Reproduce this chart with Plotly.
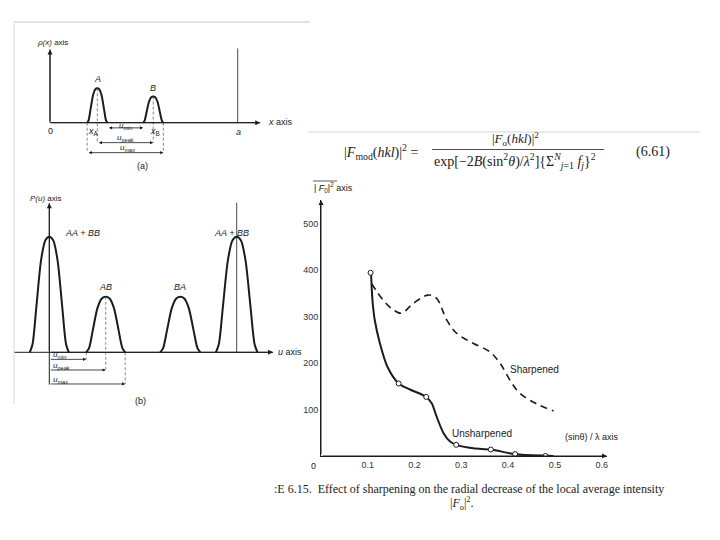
import plotly.graph_objects as go

W, H = 720, 540

# ---------------- data: panel (a) electron density rho(x) ----------------
a_peak_names = ["A", "B"]
a_peak_centers = [0.252, 0.550]          # fraction of cell edge a
a_peak_heights = [1.00, 0.76]
a_peak_halfwidths = [0.054, 0.054]
a_axis_top = 2.13
a_xaxis_end = 1.12
a_cell_edge = 1.0
a_cell_line_top = 2.16
a_dim_names = ["u<sub>min</sub>", "u<sub>peak</sub>", "u<sub>max</sub>"]
a_dim_levels = [-0.15, -0.58, -0.87]

# ---------------- data: panel (b) Patterson P(u) ----------------
b_peak_names = ["AA + BB", "AB", "BA", "AA + BB"]
b_peak_centers = [0.0, 0.301, 0.699, 1.0]
b_peak_heights = [1.00, 0.48, 0.48, 1.00]
b_peak_halfwidths = [0.104, 0.104, 0.107, 0.111]
b_axis_top = 1.29
b_axis_bottom = -0.28
b_uaxis_start = -0.194
b_uaxis_end = 1.194
b_cell_line_top = 1.294
b_dim_names = ["u<sub>min</sub>", "u<sub>peak</sub>", "u<sub>max</sub>"]
b_dim_levels = [-0.061, -0.153, -0.274]

# normalised peak profile
profile_offsets = [-1.0, -0.86, -0.66, -0.42, -0.2, 0.0, 0.2, 0.42, 0.66, 0.86, 1.0]
profile_heights = [0.0, 0.07, 0.40, 0.80, 0.97, 1.0, 0.97, 0.80, 0.40, 0.07, 0.0]

# ---------------- data: radial intensity chart ----------------
unsharp_curve_x = [0.107, 0.110, 0.115, 0.126, 0.142, 0.166, 0.190, 0.225, 0.237, 0.247,
                   0.262, 0.276, 0.289, 0.326, 0.363, 0.415, 0.480, 0.497]
unsharp_curve_y = [393, 335, 292, 242, 192, 156, 143, 127, 113, 85,
                   49, 31, 24, 16.5, 14, 4, 0.5, 0]
unsharp_pts_x = [0.106, 0.166, 0.225, 0.289, 0.363, 0.415, 0.480]
unsharp_pts_y = [394, 156, 127, 24, 14, 4, 0]
sharp_x = [0.108, 0.133, 0.155, 0.172, 0.197, 0.229, 0.247, 0.269, 0.290, 0.326,
           0.361, 0.383, 0.404, 0.425, 0.461, 0.497]
sharp_y = [371, 335, 314, 307, 328, 346, 339, 292, 264, 242,
           224, 199, 163, 135, 112, 97]
x_ticks = [0.1, 0.2, 0.3, 0.4, 0.5, 0.6]
x_tick_labels = ["0.1", "0.2", "0.3", "0.4", "0.5", "0.6"]
origin_label = "0"
y_ticks = [100, 200, 300, 400, 500]
y_tick_labels = ["100", "200", "300", "400", "500"]

# ---------------- helpers (layout only) ----------------
def dom_x(p0, p1):
    return [p0 / W, p1 / W]

def dom_y(top, bottom):
    return [1 - bottom / H, 1 - top / H]

def lin_range(p_lo, p_hi, p_a, v_a, p_b, v_b):
    s = (v_b - v_a) / (p_b - p_a)
    return [v_a + (p_lo - p_a) * s, v_a + (p_hi - p_a) * s]

def px(x):
    return x / W

def py(y):
    return 1 - y / H

def peak_xy(c, h, hw):
    return [c + hw * o for o in profile_offsets], [h * p for p in profile_heights]

INK = "#1c1c1c"
SANS = "Liberation Sans"
SERIF = "Liberation Serif"

fig = go.Figure()

# ---------- panel (a) ----------
for c, h, hw in zip(a_peak_centers, a_peak_heights, a_peak_halfwidths):
    xs, ys = peak_xy(c, h, hw)
    fig.add_trace(go.Scatter(x=xs, y=ys, mode="lines", line=dict(color=INK, width=2, shape="spline", smoothing=0.8),
                             xaxis="x", yaxis="y", hoverinfo="skip"))
fig.add_trace(go.Scatter(x=[0, 0], y=[0, a_axis_top], mode="lines", line=dict(color=INK, width=1), xaxis="x", yaxis="y"))
fig.add_trace(go.Scatter(x=[0, a_xaxis_end], y=[0, 0], mode="lines", line=dict(color=INK, width=1), xaxis="x", yaxis="y"))
fig.add_trace(go.Scatter(x=[a_cell_edge, a_cell_edge], y=[0, a_cell_line_top], mode="lines", line=dict(color=INK, width=0.8), xaxis="x", yaxis="y"))
aL = a_peak_centers[0] - a_peak_halfwidths[0]
aR = a_peak_centers[0] + a_peak_halfwidths[0]
bL = a_peak_centers[1] - a_peak_halfwidths[1]
bR = a_peak_centers[1] + a_peak_halfwidths[1]
a_dims = [(aR, bL), (a_peak_centers[0], a_peak_centers[1]), (aL, bR)]
for xv, ytop, ybot in [(aL, 0, a_dim_levels[2]), (bR, 0, a_dim_levels[2]),
                       (a_peak_centers[0], a_peak_heights[0], a_dim_levels[1]),
                       (a_peak_centers[1], a_peak_heights[1], a_dim_levels[1])]:
    fig.add_trace(go.Scatter(x=[xv, xv], y=[ytop, ybot], mode="lines",
                             line=dict(color="#555", width=0.7, dash="3px,2px"), xaxis="x", yaxis="y"))

# ---------- panel (b) ----------
for c, h, hw in zip(b_peak_centers, b_peak_heights, b_peak_halfwidths):
    xs, ys = peak_xy(c, h, hw)
    fig.add_trace(go.Scatter(x=xs, y=ys, mode="lines", line=dict(color=INK, width=2, shape="spline", smoothing=0.8),
                             xaxis="x2", yaxis="y2", hoverinfo="skip"))
fig.add_trace(go.Scatter(x=[0, 0], y=[b_axis_bottom, b_axis_top], mode="lines", line=dict(color=INK, width=1), xaxis="x2", yaxis="y2"))
fig.add_trace(go.Scatter(x=[b_uaxis_start, b_uaxis_end], y=[0, 0], mode="lines", line=dict(color=INK, width=1), xaxis="x2", yaxis="y2"))
fig.add_trace(go.Scatter(x=[1.0, 1.0], y=[0, b_cell_line_top], mode="lines", line=dict(color=INK, width=0.8), xaxis="x2", yaxis="y2"))
abL = b_peak_centers[1] - b_peak_halfwidths[1]
abR = b_peak_centers[1] + b_peak_halfwidths[1]
b_dims = [abL, b_peak_centers[1], abR]
for xv, ytop, ybot in [(abL, 0, b_dim_levels[0]), (b_peak_centers[1], b_peak_heights[1], b_dim_levels[1]),
                       (abR, 0, b_dim_levels[2])]:
    fig.add_trace(go.Scatter(x=[xv, xv], y=[ytop, ybot], mode="lines",
                             line=dict(color="#555", width=0.7, dash="3px,2px"), xaxis="x2", yaxis="y2"))

# ---------- radial intensity chart ----------
fig.add_trace(go.Scatter(x=sharp_x, y=sharp_y, mode="lines", name="Sharpened",
                         line=dict(color=INK, width=1.6, dash="7px,5px", shape="spline", smoothing=1.0),
                         xaxis="x3", yaxis="y3"))
fig.add_trace(go.Scatter(x=unsharp_curve_x, y=unsharp_curve_y, mode="lines", name="Unsharpened",
                         line=dict(color=INK, width=2, shape="spline", smoothing=0.8),
                         xaxis="x3", yaxis="y3"))
fig.add_trace(go.Scatter(x=unsharp_pts_x, y=unsharp_pts_y, mode="markers",
                         marker=dict(symbol="circle", size=5, color="white", line=dict(color=INK, width=1)),
                         xaxis="x3", yaxis="y3"))

annotations = []

def text(x, y, s, size=8, xanchor="center", font=SANS, xref="paper", yref="paper", color="#222", yanchor="middle"):
    annotations.append(dict(x=x, y=y, xref=xref, yref=yref, text=s, showarrow=False,
                            xanchor=xanchor, yanchor=yanchor, font=dict(family=font, size=size, color=color)))

def arrow(x0, y0, x1, y1, xr, yr, side="end", size=0.9, width=1):
    annotations.append(dict(x=x1, y=y1, ax=x0, ay=y0, xref=xr, yref=yr, axref=xr, ayref=yr, text="",
                            showarrow=True, arrowhead=2, arrowsize=size, arrowwidth=width,
                            arrowcolor=INK, arrowside=side))

# panel (a)
arrow(0, 0, 0, a_axis_top, "x", "y", size=1.0)
arrow(0, 0, a_xaxis_end, 0, "x", "y", size=1.0)
for (x0, x1), lev in zip(a_dims, a_dim_levels):
    arrow(x0, lev, x1, lev, "x", "y", side="end+start", size=0.8, width=0.8)
for name, c, h in zip(a_peak_names, a_peak_centers, a_peak_heights):
    annotations.append(dict(x=c, y=h, xref="x", yref="y", text="<i>" + name + "</i>", showarrow=False,
                            yshift=9, font=dict(family=SANS, size=9, color="#222")))
text(px(35), py(43), "<i>ρ(x)</i> axis", 8, "left")
text(px(266), py(122), "<i>x</i> axis", 9, "left")
text(px(50), py(131), "0", 9)
text(px(93), py(131), "<i>x</i><sub>A</sub>", 9)
text(px(155), py(131), "<i>x</i><sub>B</sub>", 9)
text(px(238), py(132), "<i>a</i>", 9)
text(px(126), py(126), "<i>u</i><sub>min</sub>", 8)
text(px(125), py(138), "<i>u</i><sub>peak</sub>", 8)
text(px(127), py(148), "<i>u</i><sub>max</sub>", 8)
text(px(142), py(166), "(a)", 9)

# panel (b)
arrow(0, 0, 0, b_axis_top, "x2", "y2", size=1.0)
arrow(0, 0, b_uaxis_end, 0, "x2", "y2", size=1.0)
for xe, lev in zip(b_dims, b_dim_levels):
    arrow(0, lev, xe, lev, "x2", "y2", side="end", size=0.8, width=0.8)
for name, c, h, anch, shiftx in zip(b_peak_names, b_peak_centers, b_peak_heights,
                                    ["left", "center", "center", "right"], [14, 0, 0, 14]):
    annotations.append(dict(x=c, y=h, xref="x2", yref="y2", text="<i>" + name + "</i>", showarrow=False,
                            xanchor=anch, xshift=shiftx, yshift=(4 if anch != "center" else 10),
                            font=dict(family=SANS, size=9, color="#222")))
text(px(28), py(198), "<i>P(u)</i> axis", 8, "left")
text(px(276), py(352), "<i>u</i> axis", 9, "left")
text(px(51), py(355), "<i>u</i><sub>min</sub>", 8, "left")
text(px(51), py(366), "<i>u</i><sub>peak</sub>", 8, "left")
text(px(51), py(380), "<i>u</i><sub>max</sub>", 8, "left")
text(px(140), py(401), "(b)", 9)

# radial chart
arrow(0, 0, 0, 550.5, "x3", "y3", size=1.0)
arrow(0, 0, 0.6114, 0, "x3", "y3", size=1.0)
text(px(313), py(466), origin_label, 9)
text(px(312), py(187), "| <i>F</i><sub>0</sub>|<sup>2</sup> axis", 9, "left")
text(px(563), py(437), "(sinθ) / λ axis", 9, "left")
text(0.457, 185, "Sharpened", 10, "center", xref="x3", yref="y3")
text(0.344, 49, "Unsharpened", 10, "center", xref="x3", yref="y3")

# equation and caption (serif)
text(px(381), py(152), "|<i>F</i><sub>mod</sub>(<i>hkl</i>)|<sup>2</sup> =", 14, font=SERIF)
text(px(515), py(139), "|<i>F</i><sub>o</sub>(<i>hkl</i>)|<sup>2</sup>", 13, font=SERIF)
text(px(515), py(161), "exp[−2<i>B</i>(sin<sup>2</sup><i>θ</i>)/<i>λ</i><sup>2</sup>]{Σ<sup><i>N</i></sup><sub><i>j</i>=1</sub> <i>f<sub>j</sub></i>}<sup>2</sup>", 14, font=SERIF)
text(px(653), py(152), "(6.61)", 14, font=SERIF)
text(px(272), py(489), ":E 6.15.  Effect of sharpening on the radial decrease of the local average intensity", 12, "left", font=SERIF)
text(px(462), py(503), "|<i>F</i><sub>o</sub>|<sup>2</sup>.", 12, font=SERIF)

shapes = [
    dict(type="line", xref="paper", yref="paper", x0=px(14), x1=px(310), y0=py(22), y1=py(22), line=dict(color="#d8d8d8", width=1.5)),
    dict(type="line", xref="paper", yref="paper", x0=px(14), x1=px(14), y0=py(22), y1=py(404), line=dict(color="#e0e0e0", width=1.2)),
    dict(type="line", xref="paper", yref="paper", x0=px(308), x1=px(700), y0=py(132), y1=py(132), line=dict(color="#e2e2e2", width=1.5)),
    dict(type="line", xref="paper", yref="paper", x0=px(432), x1=px(604), y0=py(149.5), y1=py(149.5), line=dict(color="#222", width=0.8)),
    dict(type="line", xref="paper", yref="paper", x0=px(313), x1=px(337), y0=py(181), y1=py(181), line=dict(color="#333", width=0.8)),
]

hidden = dict(visible=False, fixedrange=True)
ra_x = lin_range(14, 310, 50, 0.0, 237.7, 1.0)
ra_y = lin_range(190, 22, 122.7, 0.0, 88.3, 1.0)
rb_x = lin_range(14, 310, 49.3, 0.0, 236.7, 1.0)
rb_y = lin_range(405, 190, 352.3, 0.0, 236.7, 1.0)

fig.update_layout(
    width=W, height=H, margin=dict(l=0, r=0, t=0, b=0),
    font=dict(family=SANS, size=9, color="#222"),
    paper_bgcolor="white", plot_bgcolor="rgba(0,0,0,0)", showlegend=False,
    xaxis=dict(domain=dom_x(14, 310), range=ra_x, anchor="y", **hidden),
    yaxis=dict(domain=dom_y(22, 190), range=ra_y, anchor="x", **hidden),
    xaxis2=dict(domain=dom_x(14, 310), range=rb_x, anchor="y2", **hidden),
    yaxis2=dict(domain=dom_y(190, 405), range=rb_y, anchor="x2", **hidden),
    xaxis3=dict(domain=dom_x(321, 607), range=[0, 0.6114], anchor="y3", showgrid=False, zeroline=False,
                showline=True, linecolor=INK, linewidth=1, tickvals=x_ticks, ticktext=x_tick_labels,
                ticks="", tickfont=dict(family=SANS, size=9, color="#333"), fixedrange=True),
    yaxis3=dict(domain=dom_y(200, 456), range=[0, 550.5], anchor="x3", showgrid=False, zeroline=False,
                showline=True, linecolor=INK, linewidth=1, tickvals=y_ticks, ticktext=y_tick_labels,
                ticks="", tickfont=dict(family=SANS, size=9, color="#333"), fixedrange=True),
    annotations=annotations, shapes=shapes,
)

fig.write_html("out.html", config={"displayModeBar": False, "staticPlot": True},
               post_script="document.body.style.margin='0';document.body.style.overflow='hidden';")
